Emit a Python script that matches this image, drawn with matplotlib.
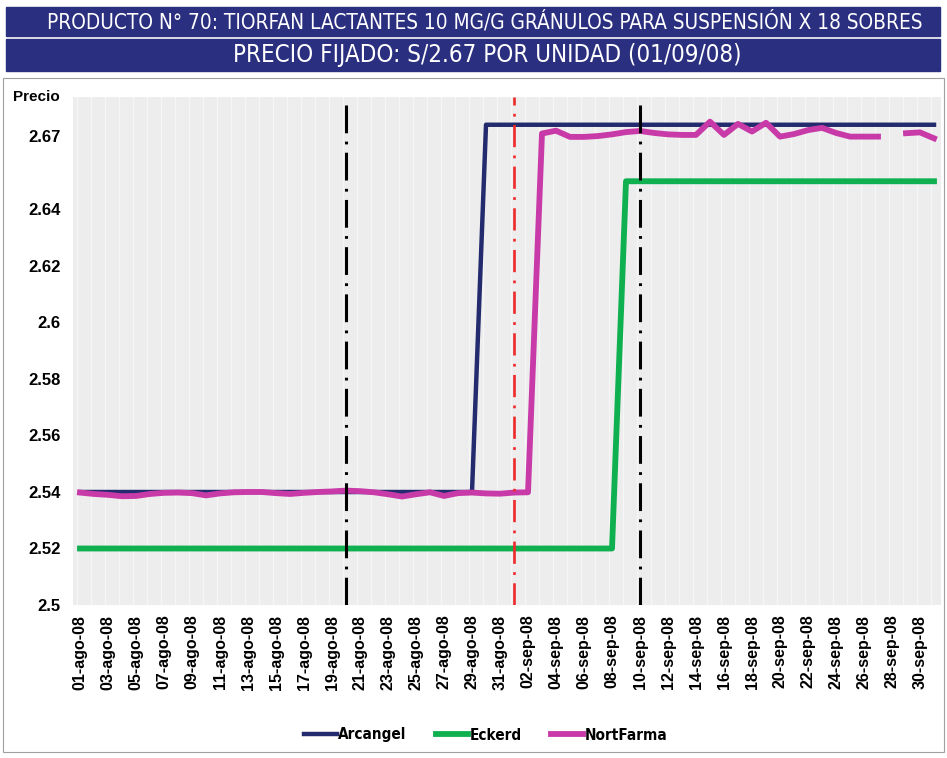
import matplotlib
matplotlib.use('Agg')
import matplotlib.pyplot as plt
from matplotlib.patches import Rectangle
import numpy as np
import pandas as pd

# Datos (precios diarios, 01-ago-08 a 01-oct-08)
fechas = pd.date_range('2008-08-01', '2008-10-01', freq='D')
meses = {8: 'ago', 9: 'sep', 10: 'oct'}

arcangel = [2.54, 2.54, 2.54, 2.54, 2.54, 2.54, 2.54, 2.54, 2.54, 2.54,
            2.54, 2.54, 2.54, 2.54, 2.54, 2.54, 2.54, 2.54, 2.54, 2.54,
            2.54, 2.54, 2.54, 2.54, 2.54, 2.54, 2.54, 2.54, 2.54, 2.67,
            2.67, 2.67, 2.67, 2.67, 2.67, 2.67, 2.67, 2.67, 2.67, 2.67,
            2.67, 2.67, 2.67, 2.67, 2.67, 2.67, 2.67, 2.67, 2.67, 2.67,
            2.67, 2.67, 2.67, 2.67, 2.67, 2.67, 2.67, 2.67, 2.67, 2.67,
            2.67, 2.67]

eckerd = [2.52, 2.52, 2.52, 2.52, 2.52, 2.52, 2.52, 2.52, 2.52, 2.52,
          2.52, 2.52, 2.52, 2.52, 2.52, 2.52, 2.52, 2.52, 2.52, 2.52,
          2.52, 2.52, 2.52, 2.52, 2.52, 2.52, 2.52, 2.52, 2.52, 2.52,
          2.52, 2.52, 2.52, 2.52, 2.52, 2.52, 2.52, 2.52, 2.52, 2.65,
          2.65, 2.65, 2.65, 2.65, 2.65, 2.65, 2.65, 2.65, 2.65, 2.65,
          2.65, 2.65, 2.65, 2.65, 2.65, 2.65, 2.65, 2.65, 2.65, 2.65,
          2.65, 2.65]

nortfarma = [2.5398, 2.5393, 2.5390, 2.5385, 2.5386, 2.5393, 2.5397, 2.5398, 2.5396, 2.5388,
             2.5395, 2.5399, 2.5400, 2.5400, 2.5396, 2.5393, 2.5397, 2.5400, 2.5402, 2.5405,
             2.5403, 2.5399, 2.5392, 2.5384, 2.5392, 2.5399, 2.5386, 2.5396, 2.5398, 2.5395,
             2.5394, 2.5398, 2.5399, 2.6669, 2.6679, 2.6657, 2.6657, 2.6660, 2.6666, 2.6674,
             2.6678, 2.6671, 2.6666, 2.6664, 2.6664, 2.6711, 2.6664, 2.6703, 2.6676, 2.6707,
             2.6658, 2.6667, 2.6681, 2.6689, 2.6671, 2.6658, 2.6658, 2.6658, np.nan, 2.6670,
             2.6673, 2.6652]

# fechas marcadas con lineas verticales
marcas_negras = ['2008-08-20', '2008-09-10']
marca_roja = '2008-09-01'

yticks = [2.5, 2.52, 2.54, 2.56, 2.58, 2.6, 2.62, 2.64, 2.666]
ytick_labels = ['2.5', '2.52', '2.54', '2.56', '2.58', '2.6', '2.62', '2.64', '2.67']

titulo1 = 'PRODUCTO N° 70: TIORFAN LACTANTES 10 MG/G GRÁNULOS PARA SUSPENSIÓN X 18 SOBRES'
titulo2 = 'PRECIO FIJADO: S/2.67 POR UNIDAD (01/09/08)'

plt.rcParams['lines.scale_dashes'] = False
arial = ['Liberation Sans', 'DejaVu Sans']

W, H = 947, 758
fig = plt.figure(figsize=(W / 100, H / 100), dpi=100)


def fx(px):
    return px / W


def fy(py):
    return 1 - py / H


def texto_ajustado(xc, yc, s, ancho, size, **kw):
    # texto que se encoge hasta caber en el ancho dado (en pixeles)
    t = fig.text(fx(xc), fy(yc), s, fontsize=size, ha='center', va='center', **kw)
    r = fig.canvas.get_renderer()
    w = t.get_window_extent(r).width
    if w > ancho:
        t.set_fontsize(size * ancho / w)
    return t


# Banners del titulo
azul = '#2b2f7f'
fig.patches.append(Rectangle((fx(6), fy(36)), fx(934), 29 / H,
                             transform=fig.transFigure, color=azul, zorder=0))
fig.patches.append(Rectangle((fx(6), fy(71)), fx(934), 32 / H,
                             transform=fig.transFigure, color=azul, zorder=0))
texto_ajustado(485, 21.5, titulo1, 880, 16, color='white',
               family=['DejaVu Sans'], fontstretch='condensed')
texto_ajustado(487, 55, titulo2, 510, 19, color='white',
               family=['DejaVu Sans'], fontstretch='condensed')

# Borde del area del grafico
fig.patches.append(Rectangle((fx(3), fy(752)), fx(941), (752 - 78) / H,
                             transform=fig.transFigure, fill=False,
                             edgecolor='#a0a0a0', lw=0.8, zorder=0))

ax = fig.add_axes([fx(73), fy(605), fx(941 - 73), (605 - 96.5) / H])
ax.set_facecolor('#ededed')

x = np.arange(len(fechas))
for xi in x:
    ax.axvline(xi - 0.25, color='#f8f8f8', lw=1.0, alpha=0.9, zorder=0)

ax.plot(x, arcangel, color='#232a6d', lw=3.2, label='Arcangel', zorder=3)
ax.plot(x, eckerd, color='#0fb04f', lw=4.2, label='Eckerd', zorder=3)
ax.plot(x, nortfarma, color='#c93aa9', lw=4.2, label='NortFarma', zorder=4)

pos = {f: i for i, f in enumerate(fechas.strftime('%Y-%m-%d'))}
for f in marcas_negras:
    ax.axvline(pos[f], color='black', lw=2.2, dashes=(20, 6, 2, 6), zorder=5)
ax.axvline(pos[marca_roja], color='#ee2a2a', lw=1.9, dashes=(16, 6, 2, 6), zorder=5)

ax.set_xlim(-0.5, len(fechas) - 0.5)
ax.set_ylim(2.5, 2.68)

etiquetas = ['%02d-%s-%02d' % (f.day, meses[f.month], f.year % 100) for f in fechas]
ax.set_xticks(x[:-1:2])
ax.set_xticklabels(etiquetas[:-1:2], rotation=90, fontsize=11.5,
                   fontweight='bold', family=arial)
ax.set_yticks(yticks)
ax.set_yticklabels(ytick_labels, fontsize=12, fontweight='bold', family=arial)
ax.tick_params(length=0, pad=7)
ax.tick_params(axis='y', pad=9)
for s in ax.spines.values():
    s.set_visible(False)

fig.text(fx(13), fy(97), 'Precio', fontsize=11, fontweight='bold',
         ha='left', va='center', family=arial)

fig.legend(loc='center', bbox_to_anchor=(fx(486), fy(735)), ncol=3, frameon=False,
           handlelength=2.1, handletextpad=0.12, columnspacing=1.9,
           prop={'family': ['DejaVu Sans'], 'stretch': 'condensed',
                 'size': 11, 'weight': 'bold'})

fig.savefig('out.png', dpi=100)
